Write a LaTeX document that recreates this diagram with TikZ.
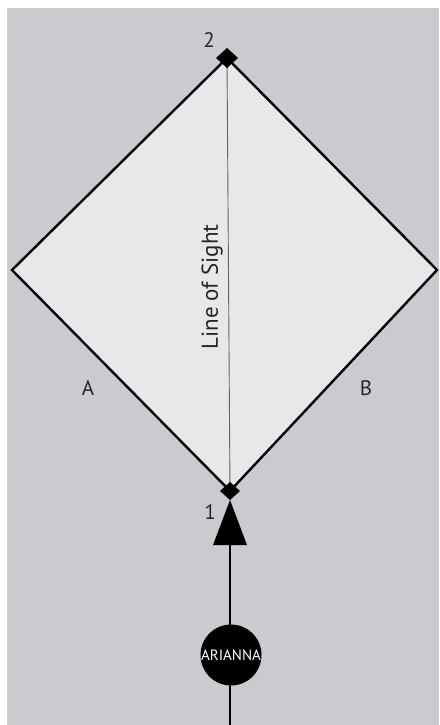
\documentclass[tikz,border=0pt]{standalone}
\usepackage{fontspec}
\setmainfont{PT Sans}
\definecolor{bggray}{RGB}{201,203,206}
\definecolor{kitefill}{RGB}{231,232,234}
\definecolor{sightgray}{RGB}{100,100,100}
\begin{document}
\begin{tikzpicture}[x=1pt,y=-1pt,
  edge/.style={line width=2.4pt,draw=black,line join=miter},
  marker/.style={fill=black},
  lbl/.style={font=\fontsize{21}{21}\selectfont,text=black!85}]
\useasboundingbox (0,0) rectangle (439,725);
\fill[white] (0,0) rectangle (439,725);
\fill[bggray] (7,8) rectangle (439,725);
% kite vertices
\coordinate (top) at (227,58);
\coordinate (bot) at (230,491);
\coordinate (lft) at (12,270);
\coordinate (rgt) at (437,270);
\filldraw[fill=kitefill,edge] (top) -- (rgt) -- (bot) -- (lft) -- cycle;
% line of sight
\draw[sightgray,line width=0.9pt] (top) -- (bot);
\node[rotate=90,font=\fontsize{23}{23}\selectfont,text=black!85] (los) at (212,287) {Line of Sight};
% markers
\fill[marker] (227,48) -- (238,58) -- (227,68) -- (216,58) -- cycle;
\fill[marker] (230,482) -- (240,491) -- (230,500) -- (220,491) -- cycle;
% triangle
\coordinate (tribase) at (230,545);
\fill[black] (230,500) -- (247,545) -- (213,545) -- cycle;
% line below
\coordinate (down) at (230,725);
\draw[line width=1.3pt] (tribase) -- (down);
% circle
\node[circle,fill=black,minimum size=61pt,inner sep=0pt,text=white,font=\fontsize{15}{15}\selectfont] (ari) at (231,655) {ARIANNA};
% labels
\node[lbl] (n2) at (209,40) {2};
\node[lbl] (n1) at (210,512) {1};
\node[lbl] (la) at (88,388) {A};
\node[lbl] (lb) at (366,388) {B};
\end{tikzpicture}
\end{document}
